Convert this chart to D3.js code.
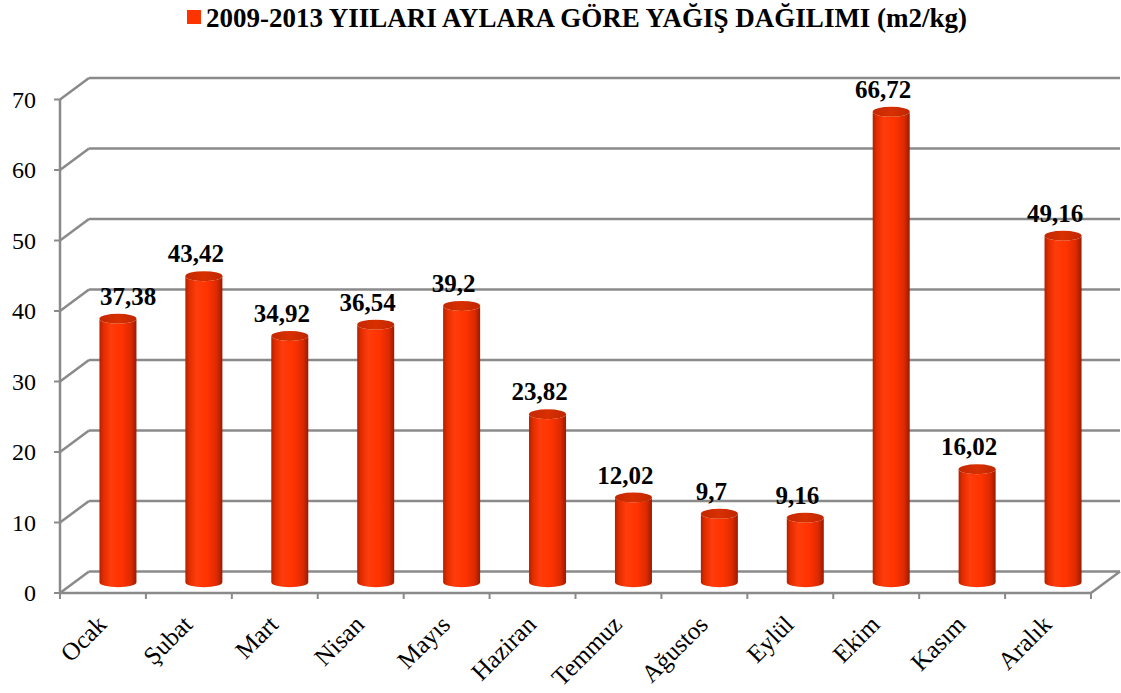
<!DOCTYPE html>
<html><head><meta charset="utf-8">
<script src="https://cdn.jsdelivr.net/npm/d3@7"></script>
<style>
html,body{margin:0;padding:0;background:#fff;}
svg{display:block;}
text{font-family:"Liberation Serif","Times New Roman",serif;}
</style></head>
<body>
<svg id="chart" width="1121" height="693"></svg>
<script>
const months = ["Ocak","Şubat","Mart","Nisan","Mayıs","Haziran","Temmuz","Ağustos","Eylül","Ekim","Kasım","Aralık"];
const values = [37.38,43.42,34.92,36.54,39.2,23.82,12.02,9.7,9.16,66.72,16.02,49.16];
const valueLabels = ["37,38","43,42","34,92","36,54","39,2","23,82","12,02","9,7","9,16","66,72","16,02","49,16"];
const yTicks = [0,10,20,30,40,50,60,70];
const title = "2009-2013 YIILARI AYLARA GÖRE YAĞIŞ DAĞILIMI (m2/kg)";

const svg = d3.select("#chart");
const pL = 60, pR = 1091, pB = 593, pT = 99.5;
const dx = 29, dy = -21.5;
const gridColor = "#8a8a8a";

const x = d3.scaleBand().domain(months).range([pL, pR]).padding(0);
const y = d3.scaleLinear().domain([0, 70]).range([pB, pT]);
const bw = x.bandwidth();

// defs
const defs = svg.append("defs");
const bodyGrad = defs.append("linearGradient").attr("id","body").attr("x1","0").attr("x2","1").attr("y1","0").attr("y2","0");
[[0,"#b02000"],[0.1,"#e02c00"],[0.3,"#ff3c0c"],[0.6,"#ff3300"],[0.85,"#dc2a00"],[1,"#9a1a00"]]
  .forEach(s=>bodyGrad.append("stop").attr("offset",s[0]).attr("stop-color",s[1]));
const topGrad = defs.append("linearGradient").attr("id","topg").attr("x1","0").attr("x2","1").attr("y1","0").attr("y2","0");
[[0,"#c42800"],[0.5,"#d83000"],[1,"#c02600"]]
  .forEach(s=>topGrad.append("stop").attr("offset",s[0]).attr("stop-color",s[1]));

// back wall gridlines + side diagonals
const g = svg.append("g");
yTicks.forEach(t => {
  const yy = y(t);
  g.append("line").attr("x1", pL+dx).attr("x2", pR+dx).attr("y1", yy+dy).attr("y2", yy+dy)
    .attr("stroke", gridColor).attr("stroke-width", 2.5);
  g.append("line").attr("x1", pL).attr("x2", pL+dx).attr("y1", yy).attr("y2", yy+dy)
    .attr("stroke", gridColor).attr("stroke-width", 2.5);
});
// floor
g.append("line").attr("x1", pR).attr("x2", pR+dx).attr("y1", y(0)).attr("y2", y(0)+dy)
  .attr("stroke", gridColor).attr("stroke-width", 2.5);
g.append("line").attr("x1", pL).attr("x2", pR).attr("y1", y(0)).attr("y2", y(0))
  .attr("stroke", gridColor).attr("stroke-width", 2.5);
// vertical axis
g.append("line").attr("x1", pL).attr("x2", pL).attr("y1", y(70)).attr("y2", y(0))
  .attr("stroke", gridColor).attr("stroke-width", 2.5);
// y ticks
yTicks.forEach(t => {
  g.append("line").attr("x1", pL-6).attr("x2", pL).attr("y1", y(t)).attr("y2", y(t))
    .attr("stroke", gridColor).attr("stroke-width", 2);
});
// x ticks at boundaries
const bounds = months.map(m => x(m)).concat([pR]);
bounds.forEach(b => {
  g.append("line").attr("x1", b).attr("x2", b).attr("y1", y(0)).attr("y2", y(0)+6)
    .attr("stroke", gridColor).attr("stroke-width", 2);
});

// y tick labels
svg.append("g").selectAll("text").data(yTicks).join("text")
  .attr("x", 36).attr("y", d => y(d)).attr("dy","0.35em")
  .attr("text-anchor","end").attr("font-size", 24).attr("fill","#000")
  .text(d => d);

// cylinders
const r = 18.5, ry = 5;
const cyl = svg.append("g").selectAll("g").data(months.map((m,i)=>({m, v:values[i], lab:valueLabels[i]}))).join("g");
cyl.append("path")
  .attr("d", d => {
    const cx = x(d.m) + bw/2 + 15;
    const yb = y(0) + dy/2, yt = y(d.v) + dy/2;
    return `M${cx-r},${yt} L${cx-r},${yb} A${r},${ry} 0 0 0 ${cx+r},${yb} L${cx+r},${yt} A${r},${ry} 0 0 1 ${cx-r},${yt} Z`;
  })
  .attr("fill","url(#body)");
cyl.append("ellipse")
  .attr("cx", d => x(d.m) + bw/2 + 15)
  .attr("cy", d => y(d.v) + dy/2)
  .attr("rx", r).attr("ry", ry)
  .attr("fill","url(#topg)");
cyl.append("text")
  .attr("x", d => x(d.m) + bw/2 + 7)
  .attr("y", d => y(d.v) + dy/2 - 14)
  .attr("text-anchor","middle").attr("font-size", 25).attr("font-weight","bold").attr("fill","#000")
  .text(d => d.lab)
  .each(function() {
    // keep labels clear of the value axis
    const b = this.getBBox();
    const minLeft = pL + 40;
    if (b.x < minLeft) d3.select(this).attr("x", +d3.select(this).attr("x") + (minLeft - b.x));
  });

// x labels
svg.append("g").selectAll("text").data(months).join("text")
  .attr("transform", d => `translate(${x(d)+bw/2+5},${626}) rotate(-45)`)
  .attr("text-anchor","end").attr("font-size", 25).attr("fill","#000")
  .text(d => d);

// title + legend square
const tg = svg.append("g");
tg.append("rect").attr("x", 187).attr("y", 10).attr("width", 14).attr("height", 14).attr("fill","#ff3300");
tg.append("text").attr("x", 206).attr("y", 27).attr("font-size", 27).attr("font-weight","bold").attr("fill","#000")
  .text(title);
</script>
</body></html>
